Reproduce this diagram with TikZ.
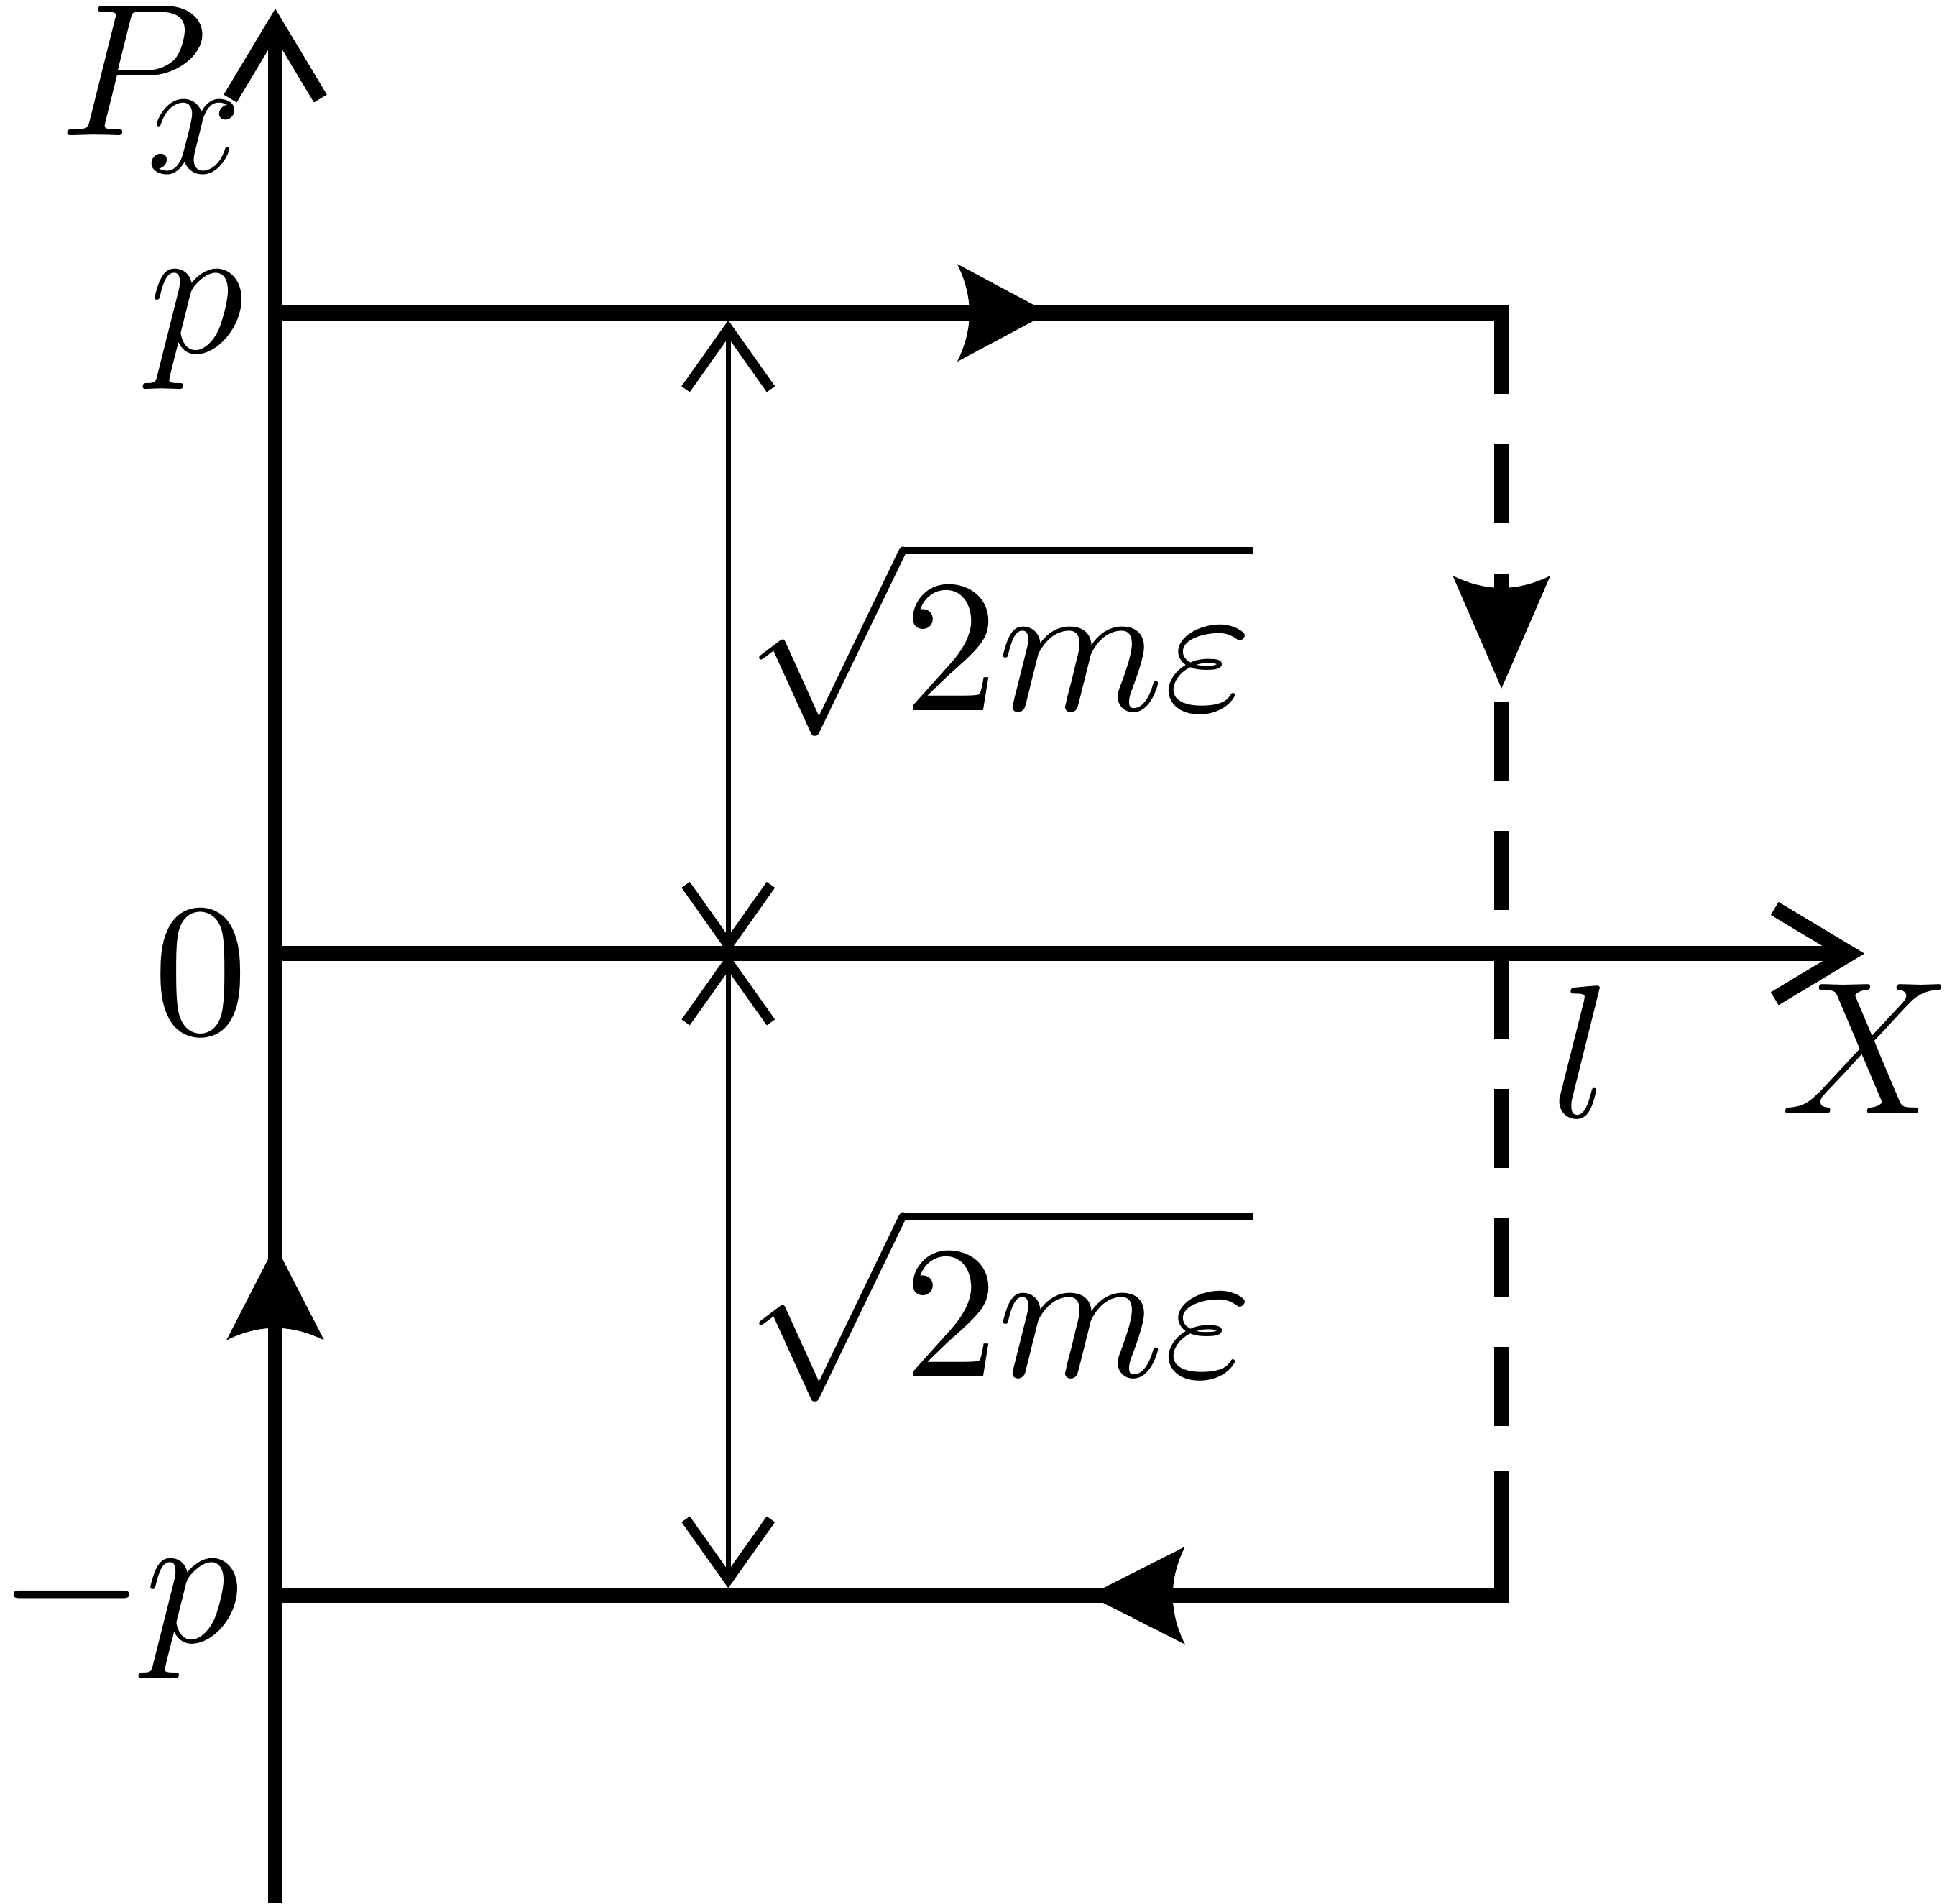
\documentclass[tikz,border=0pt]{standalone}
\usetikzlibrary{arrows.meta}
\tikzset{
  lab/.style={font=\normalsize, scale=4.3, inner sep=0pt, outer sep=0pt},
  thick line/.style={line width=0.12cm},
  meas/.style={line width=0.04cm, {Straight Barb[length=0.48cm, width=0.68cm, line width=0.08cm]}-{Straight Barb[length=0.48cm, width=0.68cm, line width=0.08cm]}},
  axisarrow/.style={thick line, -{Straight Barb[length=0.6cm, width=0.72cm, line width=0.12cm]}},
  pics/flowhead/.style={code={\fill (0,0) -- (-#1,39) .. controls (-#1+13,13) and (-#1+13,-13) .. (-#1,-39) -- cycle;}}
}
\begin{document}
\begin{tikzpicture}[x=0.01cm, y=-0.01cm]
\useasboundingbox (0,0) rectangle (1560,1521);
% key points
\coordinate (bottom) at (220,1521);
\coordinate (top) at (220,7);
\coordinate (O) at (220,762);
\coordinate (Xend) at (1490,762);
\coordinate (A) at (220,250);
\coordinate (B) at (1200,250);
\coordinate (B1) at (1200,315);
\coordinate (C1) at (1200,1175);
\coordinate (C) at (1200,1275);
\coordinate (D) at (220,1275);
\coordinate (M1) at (582,256);
\coordinate (M2) at (582,762);
\coordinate (M3) at (582,1269);
% axes
\draw[axisarrow] (bottom) -- (top);
\draw[axisarrow] (O) -- (Xend);
% orbit
\draw[thick line] (A) -- (B) -- (B1);
\draw[thick line, dash pattern=on 0.63cm off 0.40cm, dash phase=0.63cm] (B1) -- (C1);
\draw[thick line] (C1) -- (C) -- (D);
% flow arrowheads
\pic at (838,250) {flowhead=73};
\pic[rotate=-90] at (1200,550) {flowhead=90};
\pic[rotate=180] at (870,1275) {flowhead=77};
\pic[rotate=90] at (220,995) {flowhead=76};
% measurement arrows
\draw[meas] (M1) -- (M2);
\draw[meas] (M2) -- (M3);
% labels
\node[lab, anchor=base west] (Px) at (48,108) {$P$\kern-0.32em\raisebox{-0.2em}{\scalebox{0.88}{$x$}}};
\node[lab, anchor=base east] (p) at (195,282) {$p$};
\node[lab, anchor=base east] (zero) at (198,826) {$0$};
\node[lab, anchor=base east] (mp) at (192,1312) {$-p$};
\node[lab, anchor=base west] (l) at (1240,893) {$l$};
\node[lab, anchor=base east] (X) at (1560,890) {$X$};
\node[lab, anchor=base west] (s1) at (596,568) {$\sqrt{2m\varepsilon}$};
\node[lab, anchor=base west] (s2) at (596,1100) {$\sqrt{2m\varepsilon}$};
\end{tikzpicture}
\end{document}
